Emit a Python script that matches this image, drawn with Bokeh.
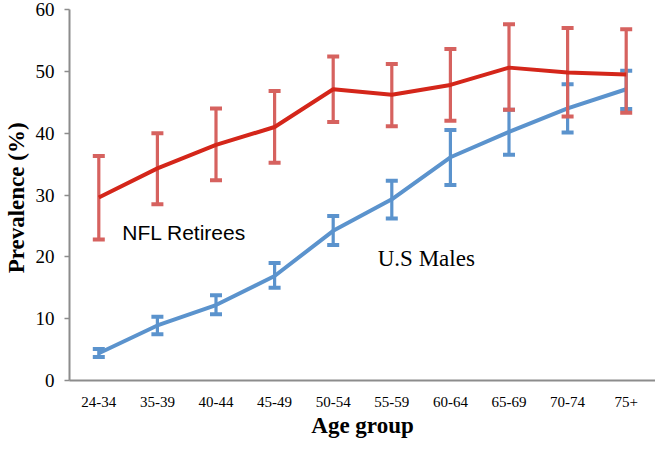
from bokeh.plotting import figure
from bokeh.models import ColumnDataSource, FactorRange, Range1d, FixedTicker
from bokeh.core.properties import value
from bokeh.embed import file_html
from bokeh.resources import INLINE

age_groups = ["24-34", "35-39", "40-44", "45-49", "50-54", "55-59", "60-64", "65-69", "70-74", "75+"]

nfl_prev = [29.6, 34.3, 38.1, 41.0, 47.1, 46.2, 47.8, 50.6, 49.8, 49.5]
nfl_lower = [22.8, 28.5, 32.4, 35.2, 41.8, 41.1, 42.0, 43.8, 42.7, 43.3]
nfl_upper = [36.3, 40.0, 44.0, 46.8, 52.4, 51.2, 53.6, 57.6, 57.0, 56.8]

us_prev = [4.4, 8.9, 12.2, 16.9, 24.2, 29.3, 36.1, 40.2, 44.0, 47.1]
us_lower = [3.8, 7.5, 10.7, 15.0, 21.9, 26.2, 31.6, 36.5, 40.1, 43.9]
us_upper = [5.1, 10.3, 13.8, 19.0, 26.6, 32.3, 40.5, 43.8, 47.9, 50.1]

label_nfl = "NFL Retirees"
label_us = "U.S Males"
# label anchors: (category, offset within category), value
label_nfl_pos = (("24-34", 0.40), 24.0)
label_us_pos = (("55-59", -0.24), 19.8)

SERIF = "'Liberation Serif', 'Times New Roman', serif"

RED_LINE = "#d4261a"
RED_BAR = "#d6625f"
BLUE = "#5b93cd"

nfl_src = ColumnDataSource(dict(x=age_groups, y=nfl_prev, lo=nfl_lower, hi=nfl_upper))
us_src = ColumnDataSource(dict(x=age_groups, y=us_prev, lo=us_lower, hi=us_upper))

p = figure(width=655, height=440, output_backend="svg", toolbar_location=None,
           x_range=FactorRange(factors=age_groups, range_padding=0),
           y_range=Range1d(0, 60),
           min_border_top=9, min_border_right=0, min_border_left=0, min_border_bottom=0)
p.outline_line_color = None
p.xgrid.visible = False
p.ygrid.visible = False
p.background_fill_color = "white"

def add_series(src, bar_color, line_color):
    p.segment(x0="x", y0="lo", x1="x", y1="hi", source=src, line_color=bar_color, line_width=3.2)
    for col in ("lo", "hi"):
        p.rect(x="x", y=col, width=12, height=4, width_units="screen", height_units="screen",
               source=src, fill_color=bar_color, line_color=None)
    p.line("x", "y", source=src, line_color=line_color, line_width=4)

add_series(us_src, BLUE, BLUE)
add_series(nfl_src, RED_BAR, RED_LINE)

p.text(x=[label_nfl_pos[0]], y=[label_nfl_pos[1]], text=[label_nfl],
       text_font=value("Liberation Sans"), text_font_size="21px",
       text_color="black", text_baseline="alphabetic", text_align="left")
p.text(x=[label_us_pos[0]], y=[label_us_pos[1]], text=[label_us],
       text_font=value(SERIF), text_font_size="23px",
       text_color="black", text_baseline="alphabetic", text_align="left")

# y axis
ya = p.yaxis[0]
ya.ticker = FixedTicker(ticks=[0, 10, 20, 30, 40, 50, 60])
ya.axis_label = "Prevalence  (%)"
ya.axis_label_text_font = SERIF
ya.axis_label_text_font_style = "bold"
ya.axis_label_text_font_size = "23px"
ya.axis_label_text_color = "black"
ya.axis_label_standoff = 4
ya.major_label_text_font = SERIF
ya.major_label_text_font_size = "19px"
ya.major_label_text_color = "black"
ya.major_label_standoff = 10
ya.axis_line_color = "#8c8c8c"
ya.axis_line_width = 2
ya.major_tick_line_color = "#8c8c8c"
ya.major_tick_line_width = 1.5
ya.major_tick_out = 5
ya.major_tick_in = 0
ya.minor_tick_line_color = None

# x axis
xa = p.xaxis[0]
xa.axis_label = "Age group"
xa.axis_label_text_font = SERIF
xa.axis_label_text_font_style = "bold"
xa.axis_label_text_font_size = "23px"
xa.axis_label_text_color = "black"
xa.axis_label_standoff = 3
xa.major_label_text_font = SERIF
xa.major_label_text_font_size = "15px"
xa.major_label_text_color = "black"
xa.major_label_standoff = 10
xa.axis_line_color = "#8c8c8c"
xa.axis_line_width = 2
xa.major_tick_line_color = None
xa.minor_tick_line_color = None

open("out.html", "w").write(file_html(p, INLINE))
